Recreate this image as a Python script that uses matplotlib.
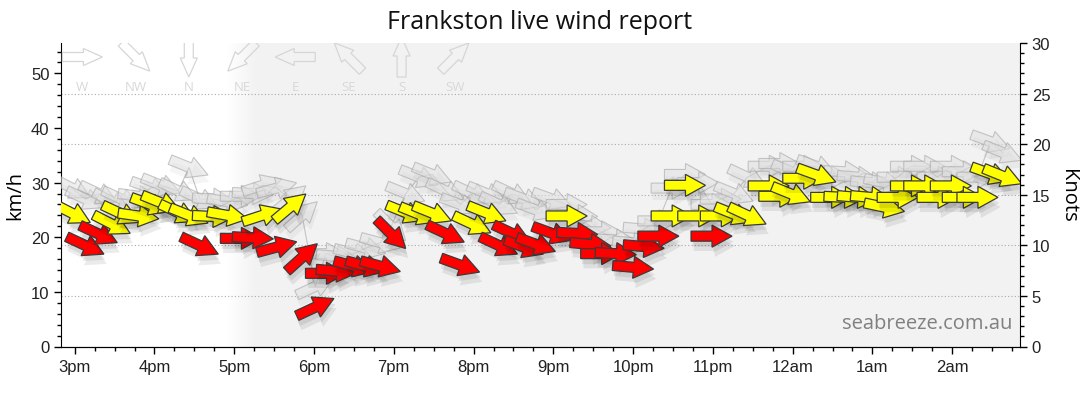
import numpy as np
import matplotlib
matplotlib.use('Agg')
import matplotlib.pyplot as plt
import matplotlib.patheffects as pe
from matplotlib.patches import Polygon
from matplotlib.transforms import Affine2D, ScaledTranslation
from matplotlib.ticker import MultipleLocator

KMH_PER_KNOT = 1.852

# ─── Data ───────────────────────────────────────────────────────────────────
times = ["14:58", "15:08", "15:18", "15:28", "15:35", "15:48", "15:57", "16:05",
         "16:18", "16:26", "16:34", "16:44", "16:55", "17:05", "17:14", "17:21",
         "17:32", "17:42", "17:51", "18:01", "18:09", "18:17", "18:30", "18:39",
         "18:50", "18:58", "19:09", "19:19", "19:29", "19:39", "19:50", "19:59",
         "20:10", "20:19", "20:29", "20:38", "20:47", "20:59", "21:10", "21:18",
         "21:28", "21:36", "21:47", "22:00", "22:08", "22:19", "22:29", "22:39",
         "22:49", "22:59", "23:06", "23:16", "23:26", "23:42", "23:50", "23:59",
         "00:08", "00:18", "00:29", "00:39", "00:49", "00:59", "01:09", "01:19",
         "01:29", "01:39", "01:49", "01:59", "02:08", "02:19", "02:29", "02:38"]

avg_kmh = [24.4, 18.5, 20.6, 22.4, 24.3, 23.9, 26.0, 26.3,
           24.5, 24.0, 18.5, 23.8, 24.0, 19.8, 19.9, 24.0,
           18.2, 25.5, 16.3, 7.2, 13.4, 13.8, 14.7, 14.7,
           14.7, 20.6, 24.5, 24.2, 24.4, 20.7, 14.9, 22.4,
           24.4, 18.5, 20.7, 18.2, 18.7, 20.7, 23.9, 20.7,
           18.7, 17.0, 17.0, 14.5, 18.3, 20.2, 23.9, 29.5,
           23.9, 20.2, 23.9, 24.2, 24.0, 29.4, 27.5, 27.9,
           30.8, 31.4, 27.3, 27.3, 27.3, 27.3, 25.5, 27.3,
           29.4, 29.4, 27.3, 29.4, 27.3, 27.3, 31.6, 31.2]

gust_kmh = [29.0, 27.0, 28.0, 26.5, 27.0, 27.5, 29.0, 29.5,
            28.5, 32.8, 27.0, 27.0, 26.5, 27.5, 28.0, 29.5,
            29.0, 27.0, 24.0, 11.0, 17.0, 16.5, 17.0, 18.0,
            19.0, 22.0, 28.0, 31.0, 31.5, 28.5, 26.0, 28.0,
            28.0, 26.0, 28.0, 27.0, 25.0, 27.0, 26.0, 24.0,
            22.0, 21.0, 19.5, 19.0, 21.5, 23.0, 29.0, 31.5,
            30.0, 26.0, 27.0, 28.0, 31.0, 33.0, 33.5, 32.0,
            33.0, 33.0, 31.0, 32.0, 31.0, 30.0, 30.0, 31.0,
            33.0, 33.0, 31.0, 33.0, 32.0, 31.0, 37.5, 35.5]

# direction the wind comes FROM, degrees
dir_deg = [297, 295, 295, 297, 295, 278, 290, 292,
           295, 292, 295, 273, 280, 270, 273, 252,
           255, 230, 228, 245, 270, 275, 285, 285,
           285, 315, 292, 292, 292, 295, 290, 295,
           292, 295, 295, 290, 290, 290, 270, 273,
           275, 270, 273, 275, 275, 270, 270, 270,
           270, 270, 270, 292, 295, 270, 270, 292,
           270, 290, 270, 273, 275, 275, 282, 270,
           270, 270, 270, 270, 270, 270, 290, 292]

hour_ticks = [15, 16, 17, 18, 19, 20, 21, 22, 23, 24, 25, 26]
hour_labels = ['3pm', '4pm', '5pm', '6pm', '7pm', '8pm', '9pm', '10pm',
               '11pm', '12am', '1am', '2am']
compass_names = ['W', 'NW', 'N', 'NE', 'E', 'SE', 'S', 'SW']
compass_deg = [270, 315, 0, 45, 90, 135, 180, 225]
knot_ticks = [0, 5, 10, 15, 20, 25, 30]


def to_hours(s):
    h, m = map(int, s.split(':'))
    if h < 12:
        h += 24
    return h + m / 60.0


def arrow_shape(length=41, head_len=20, head_w=22, shaft_w=10):
    h = length / 2.0
    b = h - head_len
    return np.array([(-h, -shaft_w / 2), (b, -shaft_w / 2), (b, -head_w / 2),
                     (h, 0), (b, head_w / 2), (b, shaft_w / 2), (-h, shaft_w / 2)])


def screen_angle(d):
    # arrow points where the wind blows to
    return 270.0 - d


ARROW = arrow_shape()
LEG_ARROW = arrow_shape(length=40, head_len=19, head_w=17, shaft_w=9)

t = np.array([to_hours(s) for s in times])
avg = np.array(avg_kmh)
gust = np.array(gust_kmh)

plt.rcParams.update({
    'font.family': ['Liberation Sans', 'DejaVu Sans'],
    'font.size': 10,
})

fig = plt.figure(figsize=(10.8, 4.14), dpi=100)
ax = fig.add_axes([61.4 / 1080, 1 - 347.5 / 414, (1020 - 61.4) / 1080, (347.5 - 44) / 414])
ax2 = ax.twinx()

ymax = 30 * KMH_PER_KNOT
xmin, xmax = to_hours("14:50"), to_hours("02:51")
ax.set_xlim(xmin, xmax)
ax.set_ylim(0, ymax)
ax2.set_ylim(0, 30)
ax.autoscale(False)

# night shading with soft edge
g0, g1 = 16.9, 17.27
n = 24
for i in range(n):
    c = 1 - (1 - 0.949) * (i + 0.5) / n
    ax.axvspan(g0 + (g1 - g0) * i / n, g0 + (g1 - g0) * (i + 1) / n,
               color=(c, c, c), lw=0, zorder=0)
ax.axvspan(g1, xmax + 1, color='#f2f2f2', lw=0, zorder=0)

# knot grid
for k in knot_ticks[1:-1]:
    ax.axhline(k * KMH_PER_KNOT, color='#aaaaaa', lw=0.8, ls=(0, (1, 2)), zorder=1)


def add_arrow(x, y, ang, shape=ARROW, base=None, **kw):
    base = ax.transData if base is None else base
    tr = Affine2D().rotate_deg(ang) + ScaledTranslation(x, y, base)
    p = Polygon(shape, closed=True, transform=tr, **kw)
    ax.add_patch(p)
    return p


# gusts: thin line + faded arrows
ax.plot(t, gust, color='#c4c4c4', lw=0.8, zorder=2)
for x, g, d in zip(t, gust, dir_deg):
    add_arrow(x, g, screen_angle(d), facecolor=(0.88, 0.88, 0.88, 0.55),
              edgecolor=(0.65, 0.65, 0.65, 0.6), lw=0.8, zorder=3,
              path_effects=[pe.SimplePatchShadow(offset=(1, -5), shadow_rgbFace='k', alpha=0.04),
                            pe.Normal()])

# average wind arrows, coloured by strength
for x, a, d in zip(t, avg, dir_deg):
    col = '#ffff00' if a / KMH_PER_KNOT >= 12 else '#ff0000'
    add_arrow(x, a, screen_angle(d), facecolor=col, edgecolor='#3a3a3a', lw=0.9, zorder=5,
              path_effects=[pe.SimplePatchShadow(offset=(2, -7), shadow_rgbFace='k', alpha=0.08),
                            pe.SimplePatchShadow(offset=(1, -4), shadow_rgbFace='k', alpha=0.08),
                            pe.Normal()])

# compass key, top left (pixel offsets from the axes' top-left corner)
corner = ScaledTranslation(0, 1, ax.transAxes)
for i, (name, d) in enumerate(zip(compass_names, compass_deg)):
    cx = 21 + 53.2 * i
    tr = Affine2D().rotate_deg(screen_angle(d)).translate(cx, -14) + corner
    p = Polygon(LEG_ARROW, closed=True, transform=tr, facecolor='none',
                edgecolor='#d6d6d6', lw=0.9, zorder=4)
    ax.add_patch(p)
    ax.text(0, 0, name, transform=Affine2D().translate(cx, -44) + corner,
            ha='center', va='center', fontsize=9.5, color='#d8d8d8',
            family=['Open Sans', 'DejaVu Sans'], zorder=4)

ax.text(0.992, 0.045, 'seabreeze.com.au', transform=ax.transAxes, ha='right', va='bottom',
        fontsize=14.5, color='#808080', family=['Open Sans', 'DejaVu Sans'], zorder=6)

# axes styling
ax.set_xticks(hour_ticks)
ax.set_xticklabels(hour_labels)
ax.xaxis.set_minor_locator(MultipleLocator(0.25))
ax.yaxis.set_major_locator(MultipleLocator(10))
ax.yaxis.set_minor_locator(MultipleLocator(2))
ax2.set_yticks(knot_ticks)
ax2.yaxis.set_minor_locator(MultipleLocator(1))

for a_ in (ax, ax2):
    a_.spines['top'].set_visible(False)
    a_.tick_params(which='major', direction='out', length=5, width=1, colors='black',
                   labelcolor='#222222', labelsize=12)
    a_.tick_params(which='minor', direction='out', length=3, width=1, colors='black')
ax.tick_params(axis='x', pad=4)
ax.spines['right'].set_visible(False)
ax2.spines['left'].set_visible(False)
ax.set_ylabel('km/h', fontsize=14.5, family=['Open Sans', 'DejaVu Sans'], labelpad=4)
ax2.set_ylabel('Knots', fontsize=14.5, family=['Open Sans', 'DejaVu Sans'], rotation=270, labelpad=20)

fig.text(0.5, 0.945, 'Frankston live wind report', ha='center', va='center',
         fontsize=18, family=['Open Sans', 'DejaVu Sans'], color='#111111')

fig.savefig('out.png', dpi=100)
